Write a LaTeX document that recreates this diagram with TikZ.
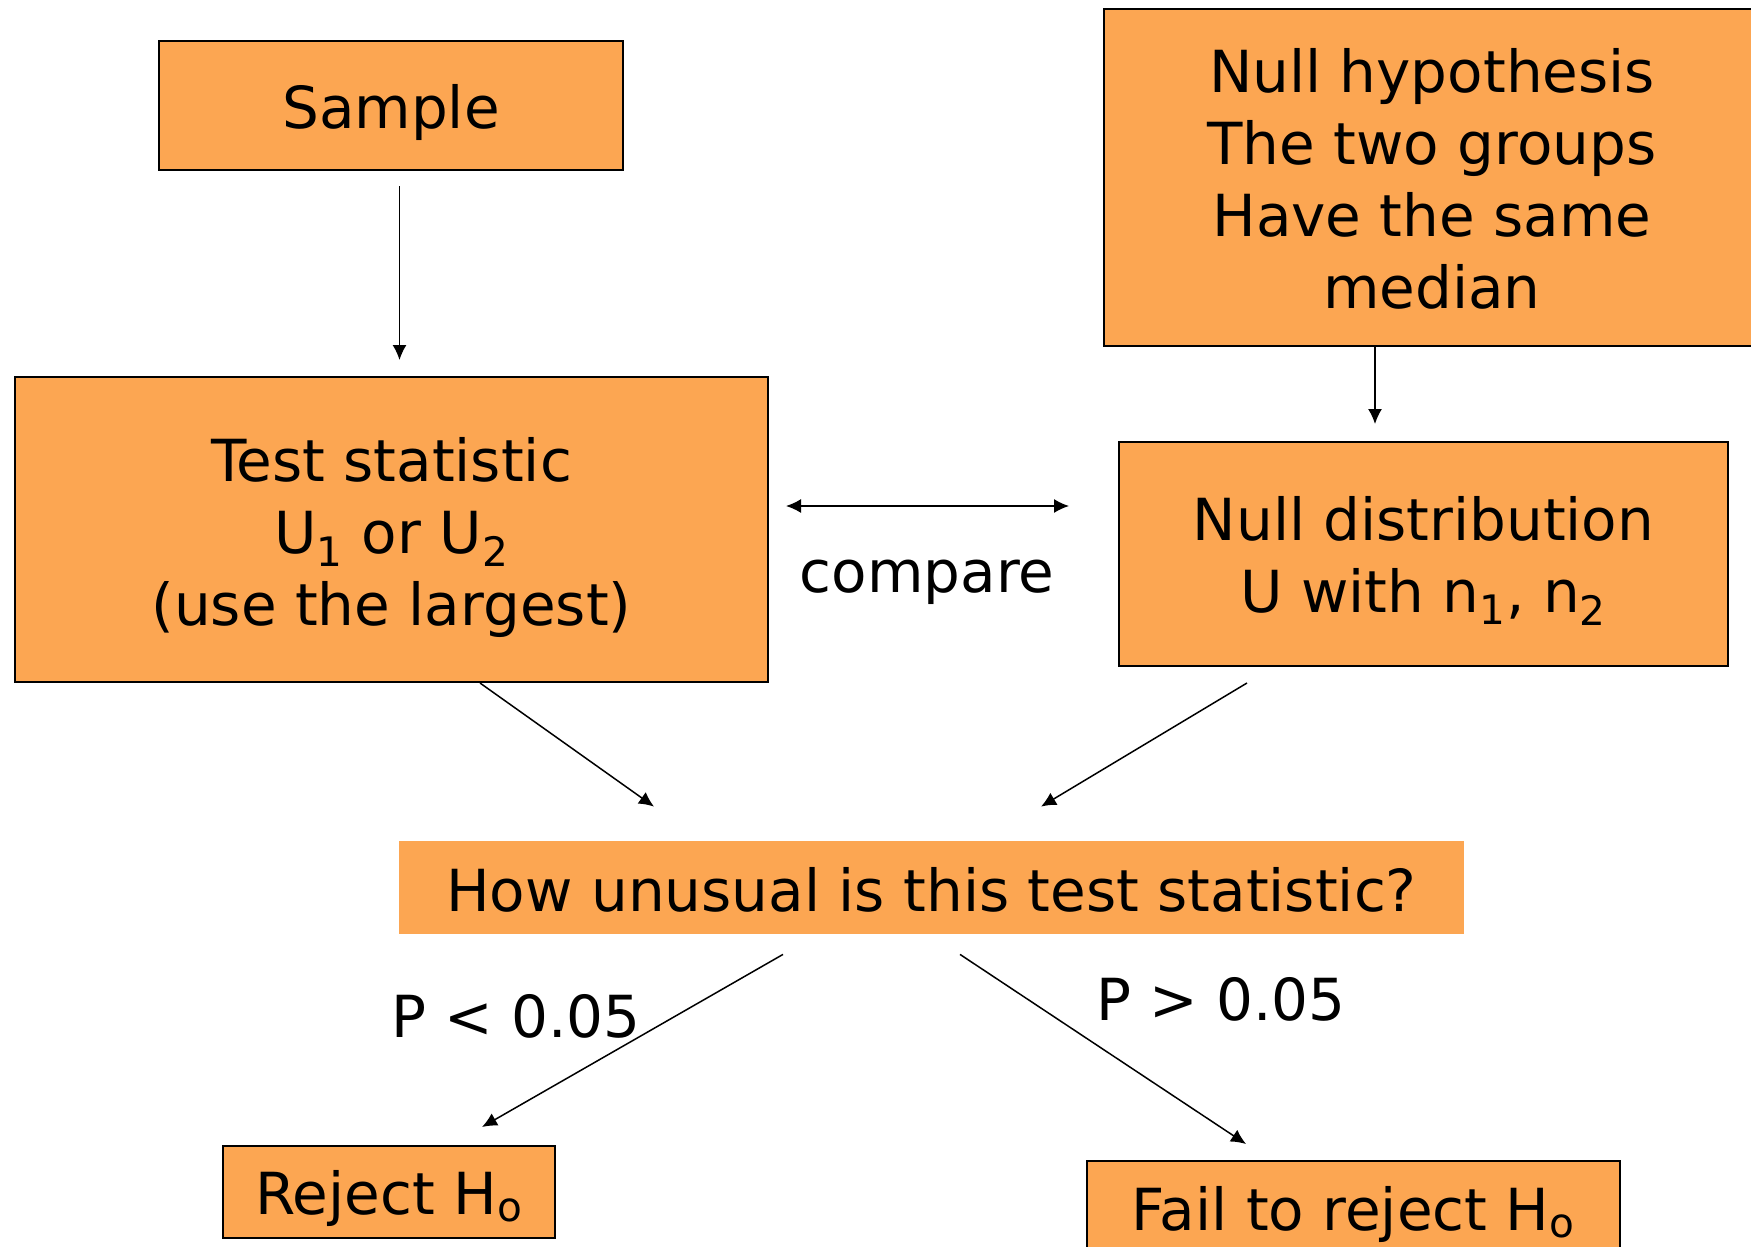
\documentclass[tikz,border=0pt]{standalone}
\usepackage{fontspec}
\setmainfont{DejaVu Sans}
\usetikzlibrary{arrows.meta}
\definecolor{boxorange}{RGB}{252,166,82}
\newcommand\boxtxt[2][4pt]{\raisebox{-#1}[\height][\depth]{\begin{tabular}{@{}c@{}}#2\end{tabular}}}
\tikzset{
  box/.style={draw=black, line width=1pt, fill=boxorange, align=center, inner sep=0pt,
              font=\fontsize{29}{36}\selectfont},
  plainbox/.style={fill=boxorange, align=center, inner sep=0pt, font=\fontsize{29}{36}\selectfont},
  lbl/.style={font=\fontsize{29}{36}\selectfont, inner sep=0pt},
  arr/.style={line width=0.75pt, -{Latex[length=7.5pt,width=7pt]}},
  dblarr/.style={line width=0.75pt, {Latex[length=7.5pt,width=7pt]}-{Latex[length=7.5pt,width=7pt]}}
}
\begin{document}
\begin{tikzpicture}[x=0.5pt,y=-0.5pt]
\useasboundingbox (0,0) rectangle (1751,1247);
\clip (0,0) rectangle (1751,1247);

\node[box, minimum width=232pt, minimum height=64.5pt] (sample) at (391,105.5) {\boxtxt[4.5pt]{Sample}};
\node[box, minimum width=376.5pt, minimum height=152.5pt] (test) at (391.5,529.5)
  {\boxtxt[5pt]{Test statistic\\U\textsubscript{1} or U\textsubscript{2}\\(use the largest)}};
\node[box, minimum width=328pt, minimum height=168.5pt] (nullhyp) at (1432,177.5)
  {\boxtxt[4.5pt]{Null hypothesis\\The two groups\\Have the same\\median}};
\node[box, minimum width=304.5pt, minimum height=112pt] (nulldist) at (1423.5,554)
  {\boxtxt[4pt]{Null distribution\\U with n\textsubscript{1}, n\textsubscript{2}}};
\node[plainbox, minimum width=532.5pt, minimum height=46.5pt] (how) at (931.5,887.5)
  {\boxtxt[5pt]{How unusual is this test statistic?}};
\node[box, minimum width=166pt, minimum height=46pt] (reject) at (389,1192)
  {\boxtxt[4pt]{Reject H\textsubscript{o}}};
\node[box, minimum width=266.5pt, minimum height=48pt] (fail) at (1353.5,1209)
  {\boxtxt[3.5pt]{Fail to reject H\textsubscript{o}}};

\node[lbl] (cmp) at (927,582) {compare};
\node[lbl] (plt) at (516,1016) {P < 0.05};
\node[lbl] (pgt) at (1221,999) {P > 0.05};

\draw[arr, shorten <=7.5pt, shorten >=8pt] ([xshift=4.25pt]sample.south) -- ([xshift=4pt]test.north);
\draw[arr, shorten >=8.5pt] ([xshift=-28.5pt]nullhyp.south) -- ([xshift=-24.25pt]nulldist.north);
\draw[dblarr, shorten <=8.5pt, shorten >=24.5pt] ([yshift=11.75pt]test.east) -- ([yshift=24pt]nulldist.west);
\draw[arr] ([xshift=44.25pt,yshift=0pt]test.south) -- ([xshift=-138.75pt,yshift=17pt]how.north);
\draw[arr] ([xshift=-88.25pt,yshift=-8pt]nulldist.south) -- ([xshift=54.75pt,yshift=17pt]how.north);
\draw[arr] ([xshift=-74.25pt,yshift=-10pt]how.south) -- ([xshift=46.5pt,yshift=9pt]reject.north);
\draw[arr] ([xshift=14.25pt,yshift=-10pt]how.south) -- ([xshift=-53.75pt,yshift=8pt]fail.north);
\end{tikzpicture}
\end{document}
